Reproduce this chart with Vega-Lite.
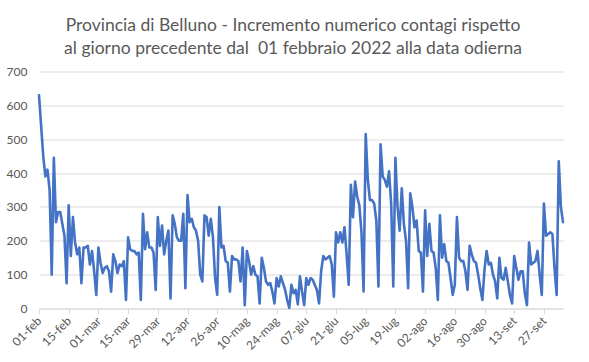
{
  "$schema": "https://vega.github.io/schema/vega-lite/v6.json",
  "autosize": {"type": "none"},
  "width": 524,
  "height": 237,
  "padding": {"left": 39, "top": 71.5, "right": 26, "bottom": 53.5},
  "background": "white",
  "title": {
    "text": ["Provincia di Belluno - Incremento numerico contagi rispetto", "al giorno precedente dal\u00a0 01 febbraio 2022 alla data odierna"],
    "anchor": "middle",
    "frame": "group",
    "dx": -8,
    "offset": 8,
    "font": "Lato",
    "fontSize": 17.5,
    "fontWeight": "normal",
    "color": "#595959",
    "lineHeight": 23.5
  },
  "config": {
    "view": {"stroke": null},
    "axis": {"labelFont": "Lato", "labelFontSize": 12, "labelColor": "#595959", "gridColor": "#d9d9d9", "domainColor": "#d9d9d9", "tickColor": "#d9d9d9"}
  },
  "data": {"values": [
    {"date": "2022-02-01", "v": 630}, {"date": "2022-02-02", "v": 540}, {"date": "2022-02-03", "v": 450}, {"date": "2022-02-04", "v": 390}, {"date": "2022-02-05", "v": 410}, {"date": "2022-02-06", "v": 350}, {"date": "2022-02-07", "v": 100},
    {"date": "2022-02-08", "v": 445}, {"date": "2022-02-09", "v": 255}, {"date": "2022-02-10", "v": 285}, {"date": "2022-02-11", "v": 285}, {"date": "2022-02-12", "v": 250}, {"date": "2022-02-13", "v": 215}, {"date": "2022-02-14", "v": 75},
    {"date": "2022-02-15", "v": 305}, {"date": "2022-02-16", "v": 155}, {"date": "2022-02-17", "v": 270}, {"date": "2022-02-18", "v": 195}, {"date": "2022-02-19", "v": 160}, {"date": "2022-02-20", "v": 180}, {"date": "2022-02-21", "v": 75},
    {"date": "2022-02-22", "v": 180}, {"date": "2022-02-23", "v": 180}, {"date": "2022-02-24", "v": 185}, {"date": "2022-02-25", "v": 130}, {"date": "2022-02-26", "v": 170}, {"date": "2022-02-27", "v": 110}, {"date": "2022-02-28", "v": 40},
    {"date": "2022-03-01", "v": 180}, {"date": "2022-03-02", "v": 135}, {"date": "2022-03-03", "v": 105}, {"date": "2022-03-04", "v": 120}, {"date": "2022-03-05", "v": 125}, {"date": "2022-03-06", "v": 110}, {"date": "2022-03-07", "v": 50},
    {"date": "2022-03-08", "v": 160}, {"date": "2022-03-09", "v": 140}, {"date": "2022-03-10", "v": 105}, {"date": "2022-03-11", "v": 130}, {"date": "2022-03-12", "v": 125}, {"date": "2022-03-13", "v": 140}, {"date": "2022-03-14", "v": 25},
    {"date": "2022-03-15", "v": 210}, {"date": "2022-03-16", "v": 175}, {"date": "2022-03-17", "v": 170}, {"date": "2022-03-18", "v": 170}, {"date": "2022-03-19", "v": 160}, {"date": "2022-03-20", "v": 165}, {"date": "2022-03-21", "v": 25},
    {"date": "2022-03-22", "v": 280}, {"date": "2022-03-23", "v": 175}, {"date": "2022-03-24", "v": 225}, {"date": "2022-03-25", "v": 180}, {"date": "2022-03-26", "v": 180}, {"date": "2022-03-27", "v": 165}, {"date": "2022-03-28", "v": 55},
    {"date": "2022-03-29", "v": 270}, {"date": "2022-03-30", "v": 185}, {"date": "2022-03-31", "v": 245}, {"date": "2022-04-01", "v": 160}, {"date": "2022-04-02", "v": 200}, {"date": "2022-04-03", "v": 230}, {"date": "2022-04-04", "v": 30},
    {"date": "2022-04-05", "v": 275}, {"date": "2022-04-06", "v": 250}, {"date": "2022-04-07", "v": 210}, {"date": "2022-04-08", "v": 200}, {"date": "2022-04-09", "v": 200}, {"date": "2022-04-10", "v": 280}, {"date": "2022-04-11", "v": 60},
    {"date": "2022-04-12", "v": 335}, {"date": "2022-04-13", "v": 255}, {"date": "2022-04-14", "v": 265}, {"date": "2022-04-15", "v": 240}, {"date": "2022-04-16", "v": 230}, {"date": "2022-04-17", "v": 200}, {"date": "2022-04-18", "v": 100},
    {"date": "2022-04-19", "v": 80}, {"date": "2022-04-20", "v": 275}, {"date": "2022-04-21", "v": 270}, {"date": "2022-04-22", "v": 215}, {"date": "2022-04-23", "v": 265}, {"date": "2022-04-24", "v": 210}, {"date": "2022-04-25", "v": 90},
    {"date": "2022-04-26", "v": 40}, {"date": "2022-04-27", "v": 300}, {"date": "2022-04-28", "v": 180}, {"date": "2022-04-29", "v": 185}, {"date": "2022-04-30", "v": 140}, {"date": "2022-05-01", "v": 135}, {"date": "2022-05-02", "v": 50},
    {"date": "2022-05-03", "v": 155}, {"date": "2022-05-04", "v": 145}, {"date": "2022-05-05", "v": 145}, {"date": "2022-05-06", "v": 140}, {"date": "2022-05-07", "v": 80}, {"date": "2022-05-08", "v": 180}, {"date": "2022-05-09", "v": 10},
    {"date": "2022-05-10", "v": 170}, {"date": "2022-05-11", "v": 140}, {"date": "2022-05-12", "v": 100}, {"date": "2022-05-13", "v": 125}, {"date": "2022-05-14", "v": 100}, {"date": "2022-05-15", "v": 95}, {"date": "2022-05-16", "v": 15},
    {"date": "2022-05-17", "v": 150}, {"date": "2022-05-18", "v": 120}, {"date": "2022-05-19", "v": 80}, {"date": "2022-05-20", "v": 70}, {"date": "2022-05-21", "v": 75}, {"date": "2022-05-22", "v": 50}, {"date": "2022-05-23", "v": 15},
    {"date": "2022-05-24", "v": 90}, {"date": "2022-05-25", "v": 65}, {"date": "2022-05-26", "v": 95}, {"date": "2022-05-27", "v": 75}, {"date": "2022-05-28", "v": 55}, {"date": "2022-05-29", "v": 25}, {"date": "2022-05-30", "v": 2},
    {"date": "2022-05-31", "v": 70}, {"date": "2022-06-01", "v": 45}, {"date": "2022-06-02", "v": 55}, {"date": "2022-06-03", "v": 12}, {"date": "2022-06-04", "v": 95}, {"date": "2022-06-05", "v": 50}, {"date": "2022-06-06", "v": 10},
    {"date": "2022-06-07", "v": 90}, {"date": "2022-06-08", "v": 70}, {"date": "2022-06-09", "v": 90}, {"date": "2022-06-10", "v": 85}, {"date": "2022-06-11", "v": 70}, {"date": "2022-06-12", "v": 55}, {"date": "2022-06-13", "v": 15},
    {"date": "2022-06-14", "v": 110}, {"date": "2022-06-15", "v": 155}, {"date": "2022-06-16", "v": 145}, {"date": "2022-06-17", "v": 150}, {"date": "2022-06-18", "v": 155}, {"date": "2022-06-19", "v": 130}, {"date": "2022-06-20", "v": 35},
    {"date": "2022-06-21", "v": 225}, {"date": "2022-06-22", "v": 195}, {"date": "2022-06-23", "v": 225}, {"date": "2022-06-24", "v": 195}, {"date": "2022-06-25", "v": 240}, {"date": "2022-06-26", "v": 160}, {"date": "2022-06-27", "v": 70},
    {"date": "2022-06-28", "v": 365}, {"date": "2022-06-29", "v": 270}, {"date": "2022-06-30", "v": 375}, {"date": "2022-07-01", "v": 330}, {"date": "2022-07-02", "v": 305}, {"date": "2022-07-03", "v": 225}, {"date": "2022-07-04", "v": 50},
    {"date": "2022-07-05", "v": 515}, {"date": "2022-07-06", "v": 380}, {"date": "2022-07-07", "v": 320}, {"date": "2022-07-08", "v": 320}, {"date": "2022-07-09", "v": 310}, {"date": "2022-07-10", "v": 260}, {"date": "2022-07-11", "v": 65},
    {"date": "2022-07-12", "v": 485}, {"date": "2022-07-13", "v": 390}, {"date": "2022-07-14", "v": 380}, {"date": "2022-07-15", "v": 360}, {"date": "2022-07-16", "v": 405}, {"date": "2022-07-17", "v": 310}, {"date": "2022-07-18", "v": 65},
    {"date": "2022-07-19", "v": 445}, {"date": "2022-07-20", "v": 300}, {"date": "2022-07-21", "v": 230}, {"date": "2022-07-22", "v": 355}, {"date": "2022-07-23", "v": 250}, {"date": "2022-07-24", "v": 200}, {"date": "2022-07-25", "v": 60},
    {"date": "2022-07-26", "v": 340}, {"date": "2022-07-27", "v": 300}, {"date": "2022-07-28", "v": 240}, {"date": "2022-07-29", "v": 260}, {"date": "2022-07-30", "v": 170}, {"date": "2022-07-31", "v": 165}, {"date": "2022-08-01", "v": 50},
    {"date": "2022-08-02", "v": 290}, {"date": "2022-08-03", "v": 155}, {"date": "2022-08-04", "v": 250}, {"date": "2022-08-05", "v": 170}, {"date": "2022-08-06", "v": 165}, {"date": "2022-08-07", "v": 120}, {"date": "2022-08-08", "v": 25},
    {"date": "2022-08-09", "v": 275}, {"date": "2022-08-10", "v": 150}, {"date": "2022-08-11", "v": 190}, {"date": "2022-08-12", "v": 140}, {"date": "2022-08-13", "v": 135}, {"date": "2022-08-14", "v": 90}, {"date": "2022-08-15", "v": 40},
    {"date": "2022-08-16", "v": 70}, {"date": "2022-08-17", "v": 270}, {"date": "2022-08-18", "v": 150}, {"date": "2022-08-19", "v": 140}, {"date": "2022-08-20", "v": 140}, {"date": "2022-08-21", "v": 110}, {"date": "2022-08-22", "v": 55},
    {"date": "2022-08-23", "v": 185}, {"date": "2022-08-24", "v": 160}, {"date": "2022-08-25", "v": 140}, {"date": "2022-08-26", "v": 135}, {"date": "2022-08-27", "v": 100}, {"date": "2022-08-28", "v": 60}, {"date": "2022-08-29", "v": 25},
    {"date": "2022-08-30", "v": 115}, {"date": "2022-08-31", "v": 170}, {"date": "2022-09-01", "v": 130}, {"date": "2022-09-02", "v": 135}, {"date": "2022-09-03", "v": 100}, {"date": "2022-09-04", "v": 80}, {"date": "2022-09-05", "v": 30},
    {"date": "2022-09-06", "v": 150}, {"date": "2022-09-07", "v": 90}, {"date": "2022-09-08", "v": 85}, {"date": "2022-09-09", "v": 120}, {"date": "2022-09-10", "v": 80}, {"date": "2022-09-11", "v": 40}, {"date": "2022-09-12", "v": 15},
    {"date": "2022-09-13", "v": 155}, {"date": "2022-09-14", "v": 120}, {"date": "2022-09-15", "v": 85}, {"date": "2022-09-16", "v": 110}, {"date": "2022-09-17", "v": 110}, {"date": "2022-09-18", "v": 45}, {"date": "2022-09-19", "v": 10},
    {"date": "2022-09-20", "v": 195}, {"date": "2022-09-21", "v": 130}, {"date": "2022-09-22", "v": 135}, {"date": "2022-09-23", "v": 140}, {"date": "2022-09-24", "v": 170}, {"date": "2022-09-25", "v": 100}, {"date": "2022-09-26", "v": 40},
    {"date": "2022-09-27", "v": 310}, {"date": "2022-09-28", "v": 215}, {"date": "2022-09-29", "v": 220}, {"date": "2022-09-30", "v": 225}, {"date": "2022-10-01", "v": 220}, {"date": "2022-10-02", "v": 120}, {"date": "2022-10-03", "v": 40},
    {"date": "2022-10-04", "v": 435}, {"date": "2022-10-05", "v": 300}, {"date": "2022-10-06", "v": 255}
  ]},
  "mark": {"type": "line", "color": "#4472C4", "strokeWidth": 2.6, "strokeJoin": "round", "strokeCap": "round"},
  "encoding": {
    "x": {
      "field": "date",
      "type": "temporal",
      "scale": {"type": "utc", "nice": false},
      "axis": {
        "title": null,
        "grid": false,
        "values": [
          {"year": 2022, "month": 2, "date": 1, "utc": true}, {"year": 2022, "month": 2, "date": 15, "utc": true},
          {"year": 2022, "month": 3, "date": 1, "utc": true}, {"year": 2022, "month": 3, "date": 15, "utc": true},
          {"year": 2022, "month": 3, "date": 29, "utc": true}, {"year": 2022, "month": 4, "date": 12, "utc": true},
          {"year": 2022, "month": 4, "date": 26, "utc": true}, {"year": 2022, "month": 5, "date": 10, "utc": true},
          {"year": 2022, "month": 5, "date": 24, "utc": true}, {"year": 2022, "month": 6, "date": 7, "utc": true},
          {"year": 2022, "month": 6, "date": 21, "utc": true}, {"year": 2022, "month": 7, "date": 5, "utc": true},
          {"year": 2022, "month": 7, "date": 19, "utc": true}, {"year": 2022, "month": 8, "date": 2, "utc": true},
          {"year": 2022, "month": 8, "date": 16, "utc": true}, {"year": 2022, "month": 8, "date": 30, "utc": true},
          {"year": 2022, "month": 9, "date": 13, "utc": true}, {"year": 2022, "month": 9, "date": 27, "utc": true}
        ],
        "labelExpr": "utcFormat(datum.value, '%d') + '-' + ['gen','feb','mar','apr','mag','giu','lug','ago','set','ott','nov','dic'][utcmonth(datum.value)]",
        "labelAngle": -45,
        "labelAlign": "right",
        "labelBaseline": "middle",
        "labelPadding": 5,
        "tickSize": 5,
        "labelOverlap": false,
        "labelFlush": false
      }
    },
    "y": {
      "field": "v",
      "type": "quantitative",
      "scale": {"domain": [0, 700], "nice": false},
      "axis": {"title": null, "values": [0, 100, 200, 300, 400, 500, 600, 700], "domain": false, "ticks": false, "labelPadding": 12}
    }
  }
}
